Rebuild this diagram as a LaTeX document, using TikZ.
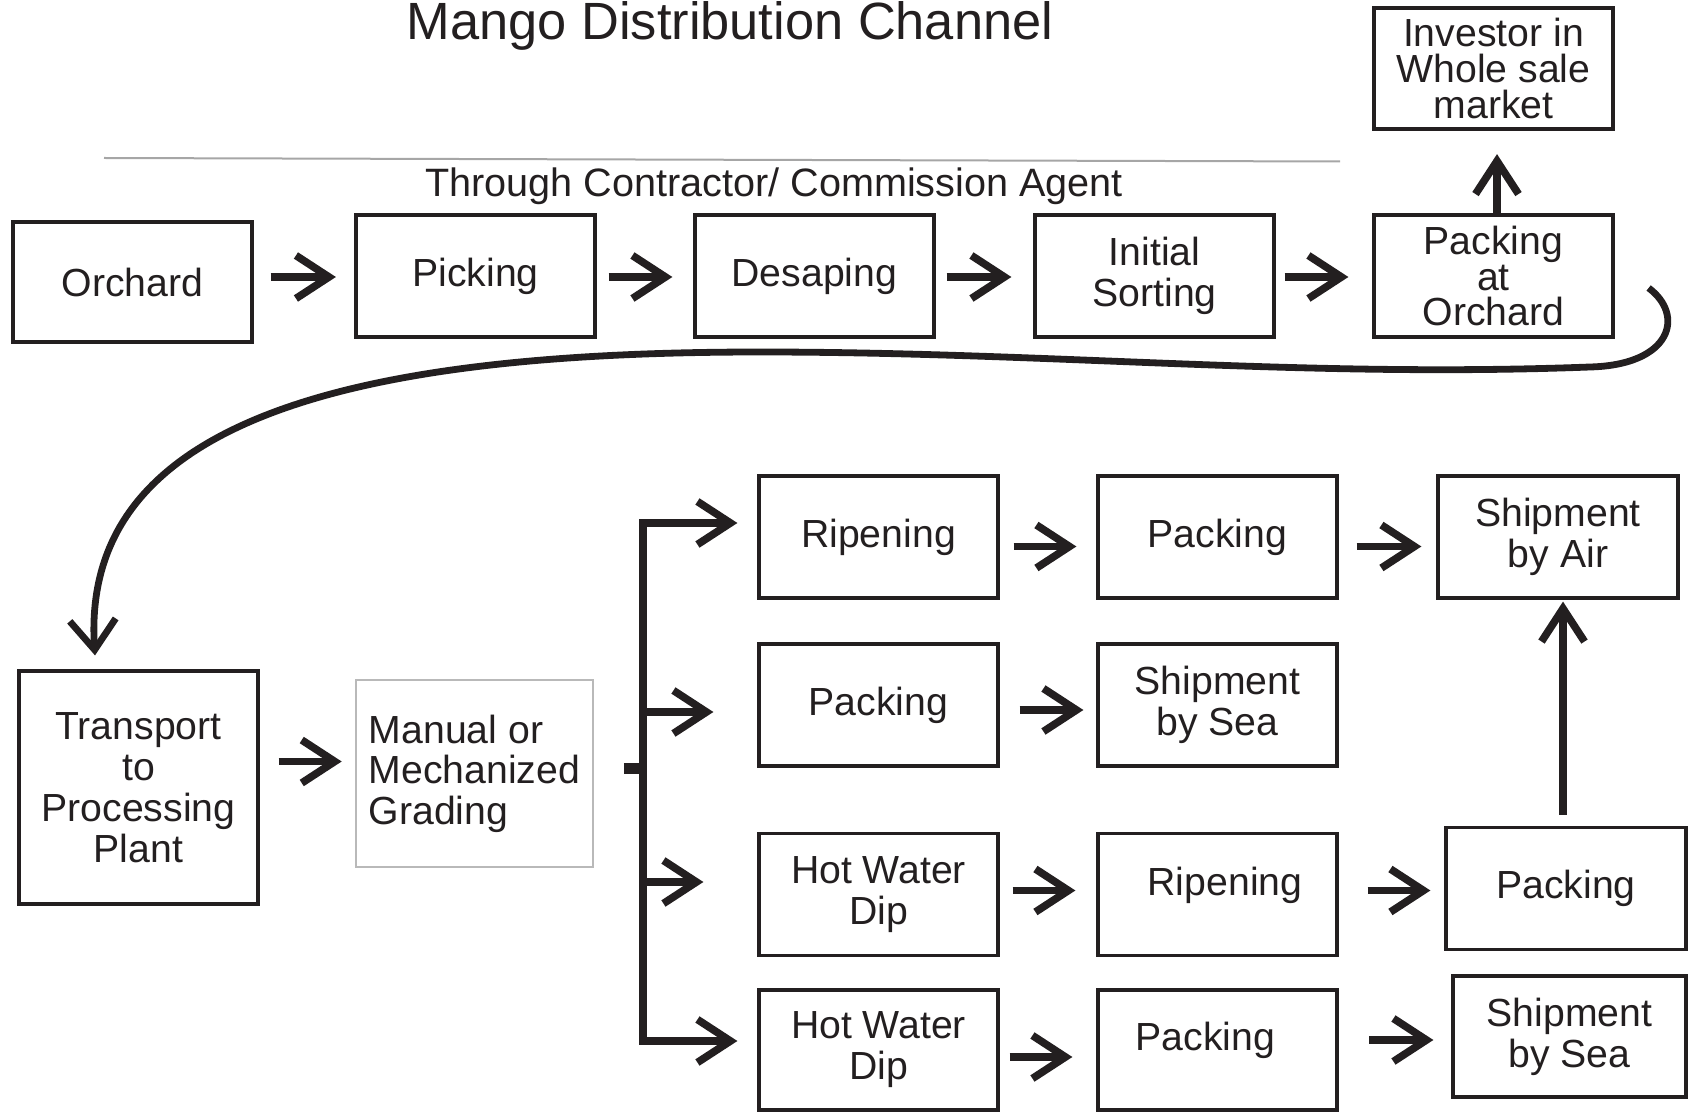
\documentclass[tikz,border=0pt]{standalone}
\usepackage{fontspec}
\setmainfont{Liberation Sans}
\usetikzlibrary{arrows.meta,calc}
\definecolor{ink}{HTML}{231F20}
\begin{document}
\begin{tikzpicture}[x=0.5pt,y=-0.5pt,
  box/.style={draw=ink, line width=1.6pt, minimum width=119.5pt, minimum height=61pt,
    align=center, text=ink, inner sep=1pt, font=\fontsize{19.6pt}{20.5pt}\selectfont},
  tight/.style={font=\fontsize{19.6pt}{17.8pt}\selectfont},
  gradebox/.style={draw=gray!55, line width=0.8pt, minimum width=118.5pt, minimum height=93.5pt,
    align=left, text=ink, inner sep=1pt, font=\fontsize{19.6pt}{20.3pt}\selectfont},
  tipa/.tip={Straight Barb[length=16.5pt,width=21.5pt]},
  flow/.style={draw=ink, line width=3.8pt, -{tipa}},
  spine/.style={draw=ink, line width=3.8pt, {tipa}-{tipa}},
  curvy/.style={draw=ink, line width=3.4pt, -{Straight Barb[length=15pt,width=23pt]}},
]
\useasboundingbox (0,0) rectangle (1688,1112);

% titles
\node[font=\fontsize{26.2pt}{30pt}\selectfont, text=ink, anchor=base, inner sep=0] (title) at (730,40) {Mango Distribution Channel};
\draw[gray!70, line width=1pt] (104,158) -- (1340,161.5);
\node[font=\fontsize{19.8pt}{22pt}\selectfont, text=ink, anchor=base, inner sep=0] (sub) at (774,197) {Through Contractor/ Commission Agent};

% top row
\node[box, minimum height=60pt] (orch) at (132.5,282) {Orchard};
\node[box] (pick) at (475.5,276) {Picking};
\node[box] (desa) at (814.5,276) {Desaping};
\node[box] (init) at (1154.5,276) {Initial\\Sorting};
\node[box, tight] (pao) at (1493.5,276) {Packing\\at\\Orchard};
\node[box, tight, minimum height=60.5pt] (inv) at (1493.5,68.5) {Investor in\\Whole sale\\market};

% left column
\node[box, minimum height=116.5pt] (tr) at (138.5,787.5) {Transport\\to\\Processing\\Plant};
\node[gradebox] (gr) at (474.5,773.5) {Manual or\\Mechanized\\Grading};

% right block
\node[box] (r1a) at (878.5,537) {Ripening};
\node[box] (r1b) at (1217.5,537) {Packing};
\node[box, minimum width=120pt] (r1c) at (1558,537) {Shipment\\by Air};
\node[box] (r2a) at (878.5,705) {Packing};
\node[box] (r2b) at (1217.5,705) {Shipment\\by Sea};
\node[box] (r3a) at (878.5,894.5) {Hot Water\\Dip};
\node[box, text height=12pt, text depth=10.6pt] (r3b) at (1217.5,894.5) {\hspace*{7.5pt}Ripening};
\node[box, minimum width=120pt] (r3c) at (1566,888.5) {Packing};
\node[box, minimum height=60pt] (r4a) at (878.5,1050) {Hot Water\\Dip};
\node[box, minimum height=60pt, text height=8pt, text depth=7.4pt] (r4b) at (1217.5,1050) {Packing\hspace*{12pt}};
\node[box, minimum width=116.5pt, minimum height=60.5pt] (r4c) at (1569.5,1036.5) {Shipment\\by Sea};

% top row arrows
\draw[flow] ([shift={(8.5pt,-0.5pt)}]orch.east |- pick.west) -- ([shift={(-9.25pt,-0.5pt)}]pick.west);
\draw[flow] ([shift={(6pt,-0.5pt)}]pick.east) -- ([shift={(-10.5pt,-0.5pt)}]desa.west);
\draw[flow] ([shift={(5.5pt,-0.5pt)}]desa.east) -- ([shift={(-11pt,-0.5pt)}]init.west);
\draw[flow] ([shift={(4.5pt,-0.5pt)}]init.east) -- ([shift={(-12pt,-0.5pt)}]pao.west);
\draw[flow] ([xshift=1.75pt]pao.north) -- ([shift={(1.75pt,-11.75pt)}]pao.north |- inv.south);

% long curved connector
\coordinate (cs) at ([shift={(17pt,-6pt)}]pao.east);
\coordinate (ce) at ([shift={(-21.75pt,7pt)}]tr.north);
\draw[curvy] (cs) .. controls (1685,315) and (1672,365) .. (1590,367)
  .. controls (1300,378) and (1050,352) .. (760,352)
  .. controls (350,352) and (80,420) .. (ce);

% transport -> grading
\draw[flow] ([shift={(9.5pt,13pt)}]tr.east) -- ([shift={(-6.75pt,13pt)}]tr.east -| gr.west);

% branching
\coordinate (sp1) at (643,523);
\coordinate (sp4) at (643,1041);
\draw[ink, line width=5.5pt] ([shift={(15pt,2.75pt)}]gr.east) -- ([yshift=2.75pt]gr.east -| sp1);
\draw[spine] ([xshift=-10pt]r1a.west |- sp1) -- (sp1) -- (sp4) -- ([xshift=-10pt]r4a.west |- sp4);
\draw[flow] ([yshift=-3.5pt]sp1 |- r2a.west) -- ([shift={(-22pt,-3.5pt)}]r2a.west);
\draw[flow] ([yshift=6.25pt]sp1 |- r3a.west) -- ([shift={(-27pt,6.25pt)}]r3a.west);

% row arrows
\draw[flow] ([shift={(7pt,-4.75pt)}]r1a.east) -- ([shift={(-10pt,-4.75pt)}]r1b.west);
\draw[flow] ([shift={(9pt,-4.75pt)}]r1b.east) -- ([shift={(-7.5pt,-4.75pt)}]r1b.east -| r1c.west);
\draw[flow] ([shift={(10pt,-2.5pt)}]r2a.east) -- ([shift={(-6.5pt,-2.5pt)}]r2b.west);
\draw[flow] ([shift={(6.5pt,2pt)}]r3a.east) -- ([shift={(-10.5pt,2pt)}]r3b.west);
\draw[flow] ([shift={(14.5pt,2pt)}]r3b.east) -- ([shift={(-7pt,2pt)}]r3b.east -| r3c.west);
\draw[flow] ([shift={(5pt,-3.5pt)}]r4a.east) -- ([shift={(-12pt,-3.5pt)}]r4b.west);
\draw[flow] ([shift={(15.25pt,5pt)}]r4b.east) -- ([shift={(-9pt,5pt)}]r4b.east -| r4c.west);
\draw[flow] ([shift={(-1.5pt,5.5pt)}]r3c.north) -- ([shift={(-1.5pt,-1pt)}]r3c.north |- r1c.south);
\end{tikzpicture}
\end{document}
